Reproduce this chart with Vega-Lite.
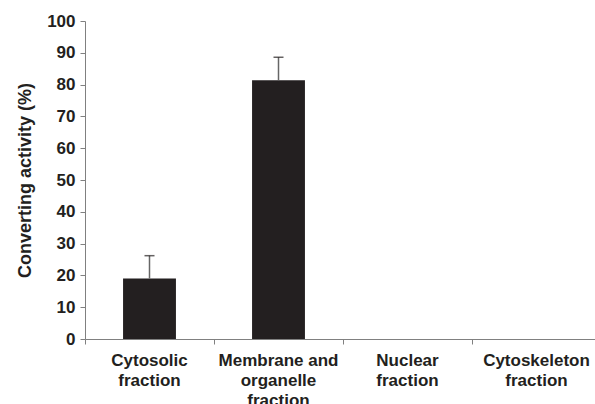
{
  "$schema": "https://vega.github.io/schema/vega-lite/v6.json",
  "width": 516,
  "height": 318,
  "padding": {"left": 85, "top": 21, "right": 0, "bottom": 65},
  "autosize": {"type": "none"},
  "background": "white",
  "config": {
    "view": {"stroke": null},
    "font": "Liberation Sans",
    "axis": {"grid": false, "domainColor": "#808080", "tickColor": "#808080", "labelColor": "#231f20", "titleColor": "#231f20", "labelFont": "Liberation Sans", "titleFont": "Liberation Sans", "labelFontWeight": "bold", "titleFontWeight": "bold"},
    "axisY": {"values": [0,10,20,30,40,50,60,70,80,90,100], "labelOverlap": false, "tickSize": 5, "labelFontSize": 17, "labelPadding": 5, "titleFontSize": 18, "titlePadding": 12}
  },
  "data": {
    "values": [
      {"fraction": "Cytosolic fraction", "activity": 19.0, "err": 26.2},
      {"fraction": "Membrane and organelle fraction", "activity": 81.4, "err": 88.6},
      {"fraction": "Nuclear fraction", "activity": 0, "err": null},
      {"fraction": "Cytoskeleton fraction", "activity": 0, "err": null}
    ]
  },
  "encoding": {
    "x": {
      "field": "fraction",
      "type": "nominal",
      "sort": null,
      "scale": {"paddingInner": 0, "paddingOuter": 0},
      "axis": {
        "title": null,
        "labelAngle": 0,
        "bandPosition": 0,
        "ticks": true,
        "tickSize": 5,
        "labelFontSize": 17,
        "labelPadding": 8,
        "labelOverlap": false,
        "labelBound": false,
        "labelExpr": "datum.value == 'Cytosolic fraction' ? ['Cytosolic', 'fraction'] : datum.value == 'Membrane and organelle fraction' ? ['Membrane and', 'organelle', 'fraction'] : datum.value == 'Nuclear fraction' ? ['Nuclear', 'fraction'] : ['Cytoskeleton', 'fraction']",
        "labelLineHeight": 20
      }
    }
  },
  "layer": [
    {
      "mark": {"type": "bar", "color": "#231f20", "width": {"band": 0.41}},
      "encoding": {
        "y": {
          "field": "activity",
          "type": "quantitative",
          "title": "Converting activity (%)",
          "scale": {"domain": [0, 100], "nice": false}
        }
      }
    },
    {
      "transform": [{"filter": "datum.err != null"}],
      "mark": {"type": "rule", "color": "#666666", "strokeWidth": 1.5},
      "encoding": {"y": {"field": "activity", "type": "quantitative", "title": "Converting activity (%)"}, "y2": {"field": "err"}}
    },
    {
      "transform": [{"filter": "datum.err != null"}],
      "mark": {"type": "tick", "color": "#231f20", "thickness": 1.5, "size": 10, "orient": "horizontal"},
      "encoding": {"y": {"field": "err", "type": "quantitative", "title": "Converting activity (%)"}}
    }
  ]
}
